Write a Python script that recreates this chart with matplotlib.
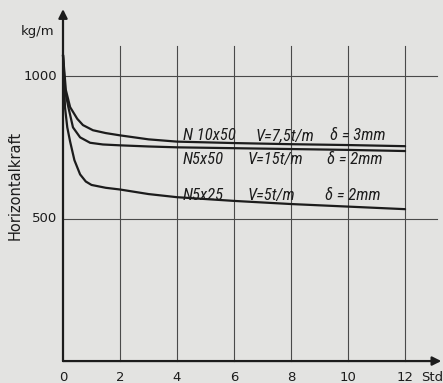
"""
Horizontalkraft über der Zeit für drei Nagelverbindungen (Nachbildung einer
gescannten Abbildung).
"""

import matplotlib

matplotlib.use("Agg")
import matplotlib.pyplot as plt  # noqa: E402
from matplotlib import font_manager  # noqa: E402

# --- data -------------------------------------------------------------------
x_ticks = [0, 2, 4, 6, 8, 10, 12]
y_ticks = [500, 1000]

t_n10x50 = [0, 0.1, 0.25, 0.5, 0.7, 1.05, 1.5, 2, 3, 4, 6, 8, 10, 12]
f_n10x50 = [1074, 951, 891, 850, 828, 810, 800, 792, 778, 770, 765, 761, 758, 754]

t_n5x50 = [0, 0.07, 0.19, 0.35, 0.6, 0.95, 1.4, 2, 3, 4, 6, 8, 10, 12]
f_n5x50 = [1074, 950, 890, 820, 785, 766, 760, 757, 753, 750, 747, 744, 741, 737]

t_n5x25 = [0, 0.07, 0.15, 0.25, 0.4, 0.6, 0.8, 1.0, 1.5, 2, 3, 4, 6, 8, 10, 12]
f_n5x25 = [1074, 890, 820, 770, 705, 655, 630, 618, 608, 602, 586, 575, 562,
           551, 542, 533]

labels_nail = ["N 10x50", "N5x50", "N5x25"]
labels_load = ["V=7,5t/m", "V=15t/m", "V=5t/m"]
labels_gap = ["δ = 3mm", "δ = 2mm", "δ = 2mm"]

# --- style ------------------------------------------------------------------
BG = "#e3e3e1"
INK = "#1c1c1c"
GRID = "#4a4a4a"

# the scan uses a narrow lettering; take a condensed face when one is installed
names = {f.name for f in font_manager.fontManager.ttflist}
condensed = [n for n in ("Liberation Sans Narrow", "Roboto Condensed",
                         "Open Sans Condensed", "DejaVu Sans Condensed")
             if n in names]
label_family = condensed[:1] + ["DejaVu Sans"]
label_size = 12 if condensed else 9

fig = plt.figure(figsize=(4.43, 3.83), dpi=100, facecolor=BG)
ax = fig.add_axes([0, 0, 1, 1])
ax.set_xlim(-2.21, 13.33)
ax.set_ylim(-77, 1267)
ax.axis("off")

# grid: vertical lines at the hour ticks, horizontal at the force ticks
grid_top = 1105
grid_right = 13.12
for t in x_ticks[1:]:
    ax.plot([t, t], [0, grid_top], color=GRID, lw=0.8, zorder=1)
for v in y_ticks:
    ax.plot([0, grid_right], [v, v], color=GRID, lw=0.8, zorder=1)

# axes with arrow heads
arrow = dict(arrowstyle="-|>", lw=1.6, color=INK, mutation_scale=13,
             shrinkA=0, shrinkB=0)
ax.annotate("", xy=(13.27, 0), xytext=(0, 0), arrowprops=arrow, zorder=3)
ax.annotate("", xy=(0, 1235), xytext=(0, 0), arrowprops=arrow, zorder=3)

# curves
for t, f in [(t_n10x50, f_n10x50), (t_n5x50, f_n5x50), (t_n5x25, f_n5x25)]:
    ax.plot(t, f, color=INK, lw=1.6, solid_joinstyle="round",
            solid_capstyle="round", zorder=2)

# tick labels
for t in x_ticks:
    ax.text(t, -56, str(t), ha="center", va="center", fontsize=9.5, color=INK)
ax.text(12.95, -56, "Std", ha="center", va="center", fontsize=9.5, color=INK)
for v in y_ticks:
    ax.text(-0.22, v, str(v), ha="right", va="center", fontsize=9.5, color=INK)
ax.text(-0.3, 1155, "kg/m", ha="right", va="center", fontsize=9.5, color=INK)
ax.text(-1.68, 615, "Horizontalkraft", rotation=90, ha="center", va="center",
        fontsize=10.5, color=INK)

# curve annotations
rows_y = [790, 706, 581]
x_nail = [4.21, 4.21, 4.21]
x_load = [6.74, 6.49, 6.49]
x_gap = [9.37, 9.26, 9.19]
for i, y in enumerate(rows_y):
    for x, s in [(x_nail[i], labels_nail[i]), (x_load[i], labels_load[i]),
                 (x_gap[i], labels_gap[i])]:
        ax.text(x, y, s, ha="left", va="center", style="italic",
                family=label_family, fontsize=label_size, color=INK)

fig.savefig("out.png", dpi=100, facecolor=BG)
